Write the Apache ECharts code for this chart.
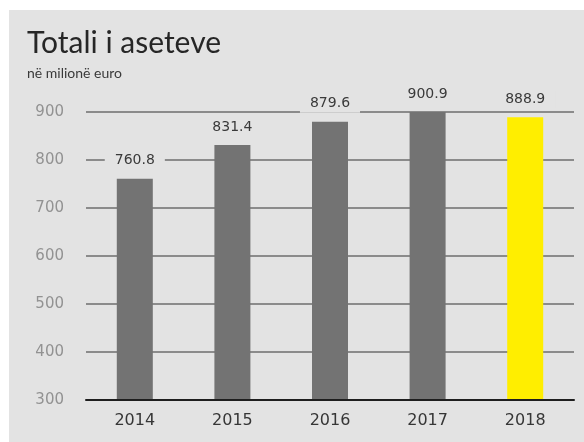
<!DOCTYPE html>
<html>
<head>
<meta charset="utf-8">
<script src="https://cdn.jsdelivr.net/npm/echarts@6/dist/echarts.min.js"></script>
<style>
  html, body { margin: 0; padding: 0; background: #ffffff; }
  #wrap { position: relative; width: 584px; height: 442px; background: #ffffff; }
  #chart { position: absolute; left: 9px; top: 10px; width: 575px; height: 432px; background: #e3e3e3; }
</style>
</head>
<body>
<div id="wrap"><div id="chart"></div></div>
<script>
// Total assets, million euro
const years = ['2014', '2015', '2016', '2017', '2018'];
const totals = [760.8, 831.4, 879.6, 900.9, 888.9];
const barColors = ['#737373', '#737373', '#737373', '#737373', '#ffee00'];
const yTicks = { min: 300, max: 900, step: 100 };

const panelBg = '#e3e3e3';
const titleFont = 'Lato, "DejaVu Sans", sans-serif';
const numberFont = '"DejaVu Sans", sans-serif';

const chart = echarts.init(document.getElementById('chart'));

chart.setOption({
  backgroundColor: panelBg,
  animation: false,
  title: {
    text: 'Totali i aseteve',
    subtext: 'në milionë euro',
    left: 13,
    top: 13,
    itemGap: 8,
    textStyle: { fontFamily: titleFont, fontSize: 30, fontWeight: 'normal', color: '#262626' },
    subtextStyle: { fontFamily: titleFont, fontSize: 14, color: '#3a3a3a' }
  },
  grid: { left: 77, right: 10, top: 102, bottom: 42 },
  xAxis: {
    type: 'category',
    data: years,
    z: 5,
    axisTick: { show: false },
    axisLine: { show: true, lineStyle: { color: '#1e1e1e', width: 2 } },
    axisLabel: { fontFamily: numberFont, fontSize: 16, color: '#363636', margin: 13 }
  },
  yAxis: {
    type: 'value',
    min: yTicks.min,
    max: yTicks.max,
    interval: yTicks.step,
    axisLine: { show: false },
    axisTick: { show: false },
    axisLabel: { fontFamily: numberFont, fontSize: 15, color: '#929292', margin: 22 },
    splitLine: { lineStyle: { color: '#6e6e6e', width: 1.5 } }
  },
  series: [{
    type: 'bar',
    barWidth: 36,
    data: totals.map((v, i) => ({ value: v, itemStyle: { color: barColors[i] } })),
    label: {
      show: true,
      position: 'top',
      distance: 9,
      fontFamily: numberFont,
      fontSize: 14,
      color: '#3a3a3a',
      backgroundColor: panelBg,
      padding: [2, 10],
      formatter: p => p.value.toFixed(1)
    }
  }]
});
</script>
</body>
</html>
